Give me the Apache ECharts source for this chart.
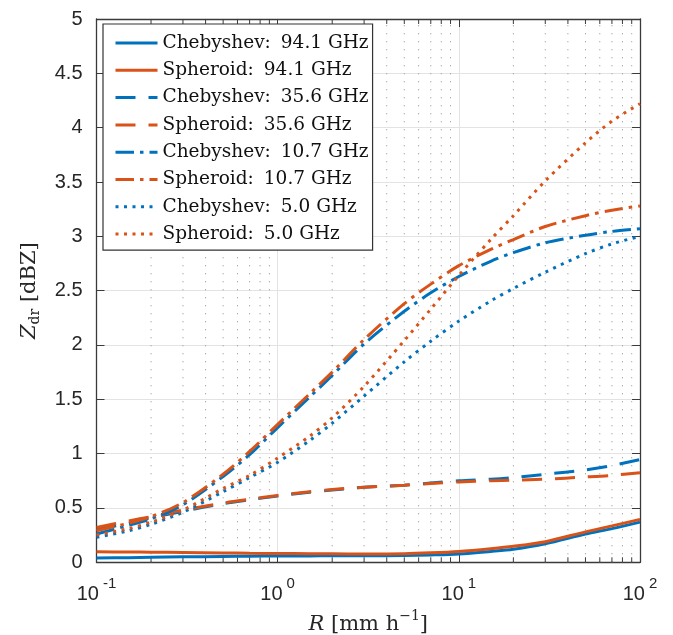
<!DOCTYPE html>
<html><head><meta charset="utf-8">
<script src="https://cdn.jsdelivr.net/npm/echarts@6.0.0/dist/echarts.min.js"></script>
<style>html,body{margin:0;padding:0;background:#fff}#c{width:673px;height:635px}</style>
</head><body><div id="c"></div>
<script>
// Rain rate R [mm/h]
const R = [0.1,0.15,0.2,0.3,0.5,0.7,1,1.5,2,3,5,7,10,15,20,30,50,70,100];
// Zdr [dBZ]
const cheb941 = [0.040,0.043,0.046,0.050,0.054,0.056,0.058,0.059,0.060,0.060,0.063,0.068,0.077,0.100,0.120,0.170,0.260,0.310,0.370];
const sph941  = [0.097,0.095,0.093,0.090,0.086,0.083,0.081,0.079,0.078,0.077,0.079,0.087,0.100,0.125,0.147,0.190,0.280,0.335,0.395];
const cheb356 = [0.30,0.36,0.41,0.47,0.54,0.575,0.61,0.645,0.665,0.69,0.71,0.73,0.75,0.765,0.78,0.81,0.85,0.89,0.945];
const sph356  = [0.32,0.38,0.42,0.48,0.545,0.58,0.615,0.65,0.67,0.69,0.71,0.725,0.74,0.75,0.755,0.765,0.785,0.80,0.825];
const cheb107 = [0.26,0.34,0.40,0.53,0.79,0.99,1.24,1.52,1.72,2.01,2.31,2.48,2.63,2.77,2.85,2.94,3.01,3.045,3.07];
const sph107  = [0.29,0.36,0.42,0.55,0.81,1.02,1.27,1.55,1.75,2.05,2.38,2.56,2.73,2.88,2.97,3.09,3.19,3.24,3.28];
const cheb50  = [0.23,0.29,0.35,0.46,0.65,0.78,0.92,1.12,1.28,1.53,1.845,2.035,2.22,2.405,2.52,2.67,2.84,2.93,3.00];
const sph50   = [0.25,0.31,0.37,0.48,0.68,0.80,0.96,1.16,1.33,1.62,2.04,2.33,2.64,2.97,3.19,3.51,3.86,4.06,4.22];

const names = ['Chebyshev:  94.1 GHz','Spheroid:  94.1 GHz','Chebyshev:  35.6 GHz','Spheroid:  35.6 GHz',
               'Chebyshev:  10.7 GHz','Spheroid:  10.7 GHz','Chebyshev:  5.0 GHz','Spheroid:  5.0 GHz'];
const minorTicks = [0.2,0.3,0.4,0.5,0.6,0.7,0.8,0.9,2,3,4,5,6,7,8,9,20,30,40,50,60,70,80,90];
const xMin = 0.1, xMax = 100, yMin = 0, yMax = 5, yStep = 0.5;

const BLUE = '#0072BD', ORANGE = '#D95319';
const DASH = [20,13], DASHDOT = [18.5,6,3.5,6], DOT = [3,5.5];

function mk(name, vals, color, dash){
  return {name, type:'line', data: R.map((r,i)=>[r, vals[i]]), showSymbol:false, symbol:'none',
    smooth:0.3, z:3,
    lineStyle:{color, width:3, type:dash, cap:'butt'}, itemStyle:{color}};
}

const axisCol = '#3a3a3a';
const chart = echarts.init(document.getElementById('c'));
chart.setOption({
  animation:false,
  backgroundColor:'#fff',
  grid:{left:96.5, right:33, top:19, bottom:72.7, containLabel:false, outerBoundsMode:'none'},
  legend:{
    data:names, orient:'vertical', left:103, top:24,
    padding:[9,4,6,11], itemWidth:42, itemHeight:20, itemGap:7.3,
    backgroundColor:'#fff', borderColor:'#333', borderWidth:1.2,
    itemStyle:{opacity:0}, lineStyle:{width:3},
    textStyle:{fontFamily:'DejaVu Serif', fontSize:18.5, color:'#111', lineHeight:20,
      rich:{g:{width:10}}},
    formatter: n => n.replace(':  ', ':{g| }')
  },
  xAxis:[{
    type:'log', logBase:10, min:xMin, max:xMax, splitNumber:3,
    axisLine:{show:true, onZero:false, lineStyle:{color:axisCol, width:1.3}},
    axisTick:{inside:true, length:8, lineStyle:{color:axisCol}},
    splitLine:{show:true, lineStyle:{color:'#e3e3e3', width:1}},
    axisLabel:{margin:14, color:'#262626',
      formatter: v => '{b|10}{s|' + Math.round(Math.log10(v)) + '}',
      rich:{b:{fontFamily:'Liberation Sans', fontSize:20, lineHeight:36, color:'#262626'},
            s:{fontFamily:'Liberation Sans', fontSize:15, lineHeight:14, color:'#262626', verticalAlign:'top', padding:[0,0,0,4]}}},
    name:'{i|R} [mm h{s|−1}]', nameLocation:'middle', nameGap:44,
    nameTextStyle:{fontFamily:'DejaVu Serif', fontSize:21, color:'#262626', lineHeight:30,
      rich:{i:{fontFamily:'DejaVu Serif', fontStyle:'italic', fontSize:21, lineHeight:30, color:'#262626'},
            s:{fontFamily:'DejaVu Serif', fontSize:14, lineHeight:16, verticalAlign:'top', color:'#262626'}}}
  },{
    type:'log', logBase:10, min:xMin, max:xMax, splitNumber:3, position:'top',
    axisLine:{show:true, onZero:false, lineStyle:{color:axisCol, width:1.3}},
    axisTick:{inside:true, length:8, lineStyle:{color:axisCol}},
    axisLabel:{show:false}, splitLine:{show:false}
  }],
  yAxis:[{
    type:'value', min:yMin, max:yMax, interval:yStep,
    axisLine:{show:true, onZero:false, lineStyle:{color:axisCol, width:1.3}},
    axisTick:{inside:true, length:8, lineStyle:{color:axisCol}},
    splitLine:{show:true, lineStyle:{color:'#e3e3e3', width:1}},
    axisLabel:{margin:14, fontFamily:'Liberation Sans', fontSize:20, color:'#262626'},
    name:'{i|Z}{sub|dr} [dBZ]', nameLocation:'middle', nameGap:54,
    nameTextStyle:{fontFamily:'DejaVu Serif', fontSize:21, color:'#262626', lineHeight:26,
      rich:{i:{fontFamily:'DejaVu Serif', fontStyle:'italic', fontSize:21, lineHeight:26, color:'#262626'},
            sub:{fontFamily:'DejaVu Serif', fontSize:14, lineHeight:26, verticalAlign:'bottom', color:'#262626'}}}
  },{
    type:'value', min:yMin, max:yMax, interval:yStep, position:'right',
    axisLine:{show:true, onZero:false, lineStyle:{color:axisCol, width:1.3}},
    axisTick:{inside:true, length:8, lineStyle:{color:axisCol}},
    axisLabel:{show:false}, splitLine:{show:false}
  }],
  series:[
    {type:'custom', silent:true, z:1, clip:false, xAxisIndex:0, yAxisIndex:0,
      data:minorTicks.map(v=>[v,0]), encode:{x:0,y:1},
      renderItem:(p,api)=>{
        const b = api.coord([api.value(0), yMin]);
        const t = api.coord([api.value(0), yMax]);
        return {type:'group', children:[
          {type:'line', shape:{x1:b[0],y1:b[1],x2:t[0],y2:t[1]}, style:{stroke:'#a0a0a0', lineWidth:1, lineDash:[1.2,6.8]}},
          {type:'line', shape:{x1:b[0],y1:b[1],x2:b[0],y2:b[1]-5}, style:{stroke:axisCol, lineWidth:1}},
          {type:'line', shape:{x1:t[0],y1:t[1],x2:t[0],y2:t[1]+5}, style:{stroke:axisCol, lineWidth:1}}
        ]};
      }},
    mk(names[0], cheb941, BLUE, 'solid'),
    mk(names[1], sph941, ORANGE, 'solid'),
    mk(names[2], cheb356, BLUE, DASH),
    mk(names[3], sph356, ORANGE, DASH),
    mk(names[4], cheb107, BLUE, DASHDOT),
    mk(names[5], sph107, ORANGE, DASHDOT),
    mk(names[6], cheb50, BLUE, DOT),
    mk(names[7], sph50, ORANGE, DOT)
  ]
});
</script></body></html>
